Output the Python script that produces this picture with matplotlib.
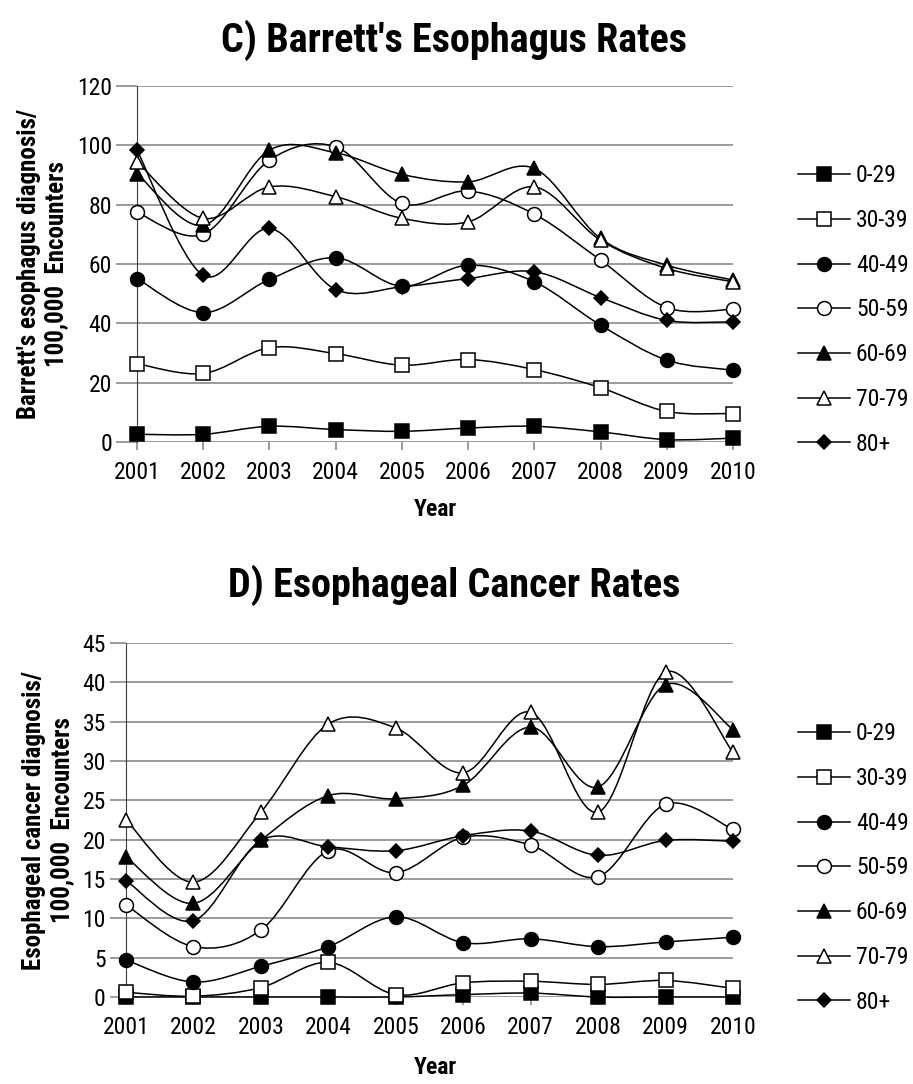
import matplotlib
matplotlib.use("Agg")
import matplotlib.pyplot as plt
import numpy as np
from matplotlib import font_manager
from matplotlib.lines import Line2D
from matplotlib.patches import PathPatch
from matplotlib.path import Path

# narrow sans (Arial Narrow look-alike), first one that is installed
_installed = {f.name for f in font_manager.fontManager.ttflist}
_narrow = [f for f in ["Liberation Sans Narrow", "Arial Narrow", "Roboto Condensed",
                       "PT Sans Narrow", "Archivo Narrow", "Asap Condensed"]
           if f in _installed]
plt.rcParams["font.family"] = _narrow[:1] + ["Liberation Sans", "DejaVu Sans"]

years = [2001, 2002, 2003, 2004, 2005, 2006, 2007, 2008, 2009, 2010]
age_groups = ["0-29", "30-39", "40-49", "50-59", "60-69", "70-79", "80+"]

# C) Barrett's esophagus diagnoses per 100,000 encounters
barrett_0_29 = [2.6, 2.6, 5.3, 4.2, 3.6, 4.7, 5.3, 3.4, 0.8, 1.3]
barrett_30_39 = [26.4, 23.1, 31.8, 29.8, 25.9, 27.8, 24.4, 18.3, 10.3, 9.6]
barrett_40_49 = [55.1, 43.6, 54.8, 62.1, 52.5, 59.6, 54.0, 39.4, 27.6, 24.2]
barrett_50_59 = [77.4, 70.0, 95.0, 99.5, 80.4, 84.6, 76.8, 61.3, 45.3, 44.7]
barrett_60_69 = [90.5, 73.0, 98.4, 97.5, 90.2, 87.7, 92.2, 68.6, 59.6, 54.6]
barrett_70_79 = [94.5, 75.4, 86.0, 82.7, 75.4, 74.2, 86.0, 68.0, 58.5, 54.0]
barrett_80p = [98.4, 56.2, 72.0, 51.4, 52.3, 55.1, 57.4, 48.7, 41.0, 40.5]

# D) Esophageal cancer diagnoses per 100,000 encounters
cancer_0_29 = [0.0, 0.0, 0.0, 0.0, 0.0, 0.3, 0.5, 0.0, 0.0, 0.0]
cancer_30_39 = [0.6, 0.1, 1.2, 4.4, 0.3, 1.8, 2.0, 1.6, 2.1, 1.1]
cancer_40_49 = [4.7, 1.9, 3.9, 6.4, 10.2, 6.9, 7.4, 6.4, 7.0, 7.6]
cancer_50_59 = [11.7, 6.4, 8.5, 18.6, 15.8, 20.3, 19.3, 15.3, 24.5, 21.3]
cancer_60_69 = [17.8, 11.9, 19.9, 25.6, 25.2, 26.9, 34.3, 26.7, 39.7, 34.0]
cancer_70_79 = [22.5, 14.6, 23.5, 34.7, 34.2, 28.5, 36.2, 23.5, 41.3, 31.1]
cancer_80p = [14.8, 9.7, 19.9, 19.1, 18.6, 20.5, 21.1, 18.0, 19.9, 19.8]

barrett_series = [barrett_0_29, barrett_30_39, barrett_40_49, barrett_50_59,
                  barrett_60_69, barrett_70_79, barrett_80p]
cancer_series = [cancer_0_29, cancer_30_39, cancer_40_49, cancer_50_59,
                 cancer_60_69, cancer_70_79, cancer_80p]

# marker, face colour, size per age group (Excel-like style)
styles = [("s", "black", 10), ("s", "white", 10), ("o", "black", 10),
          ("o", "white", 10), ("^", "black", 10), ("^", "white", 10),
          ("D", "black", 7)]

W, H = 913, 1084
fig = plt.figure(figsize=(W / 100, H / 100), dpi=100)
GRID = "#808080"
FS = 17


def smooth_path(x, y):
    """Excel-style smoothed line: cubic Bezier through the data points."""
    pts = np.column_stack([x, y]).astype(float)
    n = len(pts)
    verts, codes = [pts[0]], [Path.MOVETO]
    for i in range(n - 1):
        p0, p1 = pts[max(i - 1, 0)], pts[i]
        p2, p3 = pts[i + 1], pts[min(i + 2, n - 1)]
        verts += [p1 + (p2 - p0) / 6, p2 - (p3 - p1) / 6, p2]
        codes += [Path.CURVE4] * 3
    return Path(verts, codes)


def panel(rect, series, ymax, ystep, ytick_len, title, title_y, ylabel,
          xlabel_y, legend_y):
    ax = fig.add_axes(rect)
    for vals in series:
        ax.add_patch(PathPatch(smooth_path(years, vals), fill=False,
                               edgecolor="black", lw=1.1, zorder=3,
                               clip_on=False))
    for vals, (mk, fc, ms) in zip(series, styles):
        ax.plot(years, vals, linestyle="none", marker=mk, markersize=ms,
                markerfacecolor=fc, markeredgecolor="black",
                markeredgewidth=1.1, zorder=4, clip_on=False)
    ax.set_xlim(years[0], years[-1])
    ax.set_ylim(0, ymax)
    ax.set_xticks(years)
    ax.set_yticks(np.arange(0, ymax + 1, ystep))
    ax.grid(axis="y", color=GRID, lw=1.1)
    ax.set_axisbelow(True)
    for s in ["top", "right", "bottom"]:
        ax.spines[s].set_visible(False)
    ax.spines["left"].set_color("#404040")
    ax.tick_params(axis="y", length=ytick_len, width=1.1, color=GRID,
                   labelsize=FS, pad=3)
    ax.tick_params(axis="x", length=6, width=1.1, color=GRID,
                   labelsize=FS, pad=8)
    ax.set_ylabel(ylabel, fontsize=18, fontweight="bold", labelpad=6,
                  linespacing=1.2)
    fig.text(0.497, title_y, title, ha="center", va="center",
             fontsize=29, fontweight="bold")
    fig.text(435 / W, xlabel_y, "Year", ha="center", va="center",
             fontsize=FS, fontweight="bold")
    handles = [Line2D([], [], color="black", lw=1.1, marker=mk, markersize=ms,
                      markerfacecolor=fc, markeredgecolor="black",
                      markeredgewidth=1.1)
               for (mk, fc, ms) in styles]
    fig.legend(handles, age_groups, loc="center left",
               bbox_to_anchor=(798 / W, legend_y), frameon=False,
               fontsize=FS, handlelength=2.2, handletextpad=0.25,
               labelspacing=0.92, borderpad=0, borderaxespad=0)
    return ax


panel([137 / W, 1 - 442 / H, 596 / W, 356 / H], barrett_series, 120, 20, 15,
      "C) Barrett's Esophagus Rates", 1 - 40 / H,
      "Barrett's esophagus diagnosis/\n100,000  Encounters",
      1 - 510 / H, 1 - 310 / H)

panel([126 / W, 1 - 997 / H, 607 / W, 354 / H], cancer_series, 45, 5, 11.5,
      "D) Esophageal Cancer Rates", 1 - 585 / H,
      "Esophageal cancer diagnosis/\n100,000  Encounters",
      1 - 1068 / H, 1 - 868 / H)

fig.savefig("out.png", dpi=100)
